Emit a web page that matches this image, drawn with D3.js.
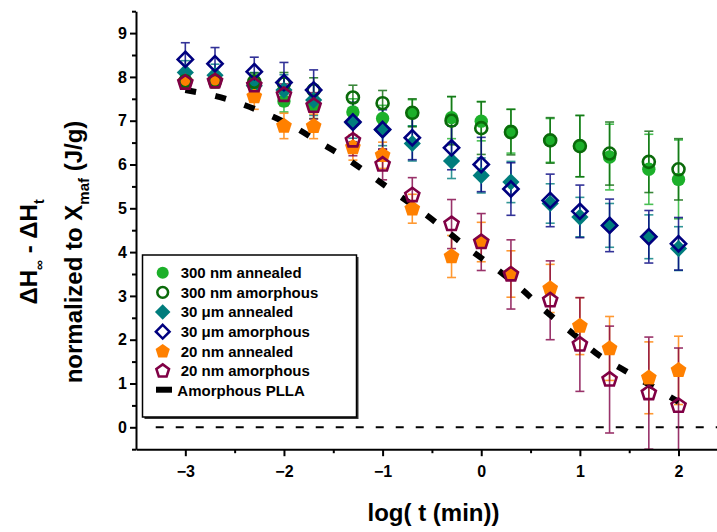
<!DOCTYPE html>
<html><head><meta charset="utf-8">
<script src="https://cdn.jsdelivr.net/npm/d3@7"></script>
<style>
body{margin:0;background:#fff}
svg{display:block}
text{font-family:"Liberation Sans",Arial,Helvetica,sans-serif;font-weight:bold;fill:#000}
</style>
</head><body>
<svg id="c" width="717" height="532"></svg>
<script>
// ---------- data ----------
const logT = [-3, -2.699, -2.301, -2, -1.699, -1.301, -1, -0.699, -0.301, 0, 0.301, 0.699, 1, 1.301, 1.699, 2];

const ann300    = [7.90, 7.90, 7.85, 7.45, 7.33, 7.20, 7.05, 7.18, 7.07, 6.99, 6.76, 6.55, 6.42, 6.17, 5.89, 5.66];
const ann300Err = [0.15, 0.15, 0.20, 0.25, 0.28, 0.30, 0.30, 0.30, 0.48, 0.45, 0.50, 0.50, 0.70, 0.75, 0.80, 0.90];
const am300     = [7.90, 7.91, 7.89, 7.85, 7.70, 7.53, 7.40, 7.18, 7.00, 6.83, 6.74, 6.55, 6.42, 6.25, 6.06, 5.89];
const am300Err  = [0.15, 0.15, 0.20, 0.25, 0.28, 0.28, 0.29, 0.32, 0.55, 0.60, 0.52, 0.52, 0.70, 0.72, 0.70, 0.70];
const ann30     = [8.10, 8.04, 7.80, 7.70, 7.47, 6.95, 6.78, 6.48, 6.08, 5.75, 5.60, 5.11, 4.80, 4.61, 4.35, 4.08];
const ann30Err  = [0.27, 0.25, 0.30, 0.35, 0.35, 0.35, 0.35, 0.40, 0.40, 0.40, 0.47, 0.45, 0.45, 0.50, 0.50, 0.50];
const am30      = [8.40, 8.30, 8.12, 7.87, 7.70, 6.97, 6.80, 6.61, 6.38, 6.00, 5.44, 5.18, 4.93, 4.61, 4.35, 4.19];
const am30Err   = [0.38, 0.37, 0.33, 0.46, 0.46, 0.45, 0.45, 0.50, 0.50, 0.62, 0.60, 0.60, 0.60, 0.60, 0.60, 0.60];
const ann20     = [7.89, 7.91, 7.55, 6.88, 6.87, 6.39, 6.21, 4.99, 3.90, 4.23, 3.50, 3.17, 2.31, 1.80, 1.13, 1.30];
const ann20Err  = [0.15, 0.15, 0.29, 0.29, 0.28, 0.29, 0.30, 0.33, 0.48, 0.45, 0.53, 0.55, 0.65, 0.73, 0.82, 0.78];
const am20      = [7.87, 7.90, 7.81, 7.59, 7.34, 6.55, 6.00, 5.30, 4.64, 4.23, 3.49, 2.90, 1.89, 1.09, 0.78, 0.49];
const am20Err   = [0.15, 0.15, 0.20, 0.25, 0.30, 0.35, 0.35, 0.40, 0.56, 0.65, 0.79, 0.90, 1.07, 1.22, 1.28, 1.32];

// Amorphous PLLA reference curve
const pllaX = [-3, -2.69, -2.44, -2.17, -1.90, -1.65, -1.41, -1.15, -0.89, -0.60, -0.36, -0.10, 0.17, 0.41, 0.66, 0.94, 1.19, 1.46, 1.73, 2.0];
const pllaY = [7.70, 7.56, 7.39, 7.15, 6.86, 6.52, 6.20, 5.80, 5.38, 4.92, 4.50, 4.03, 3.59, 3.15, 2.64, 2.12, 1.65, 1.29, 0.94, 0.58];

const zeroLineX = [-3.3, 2.5];
const zeroLineY = [0, 0];

const xTicks = [-3, -2, -1, 0, 1, 2];
const xMinor = [-2.5, -1.5, -0.5, 0.5, 1.5, 2.5];
const yTicks = [0, 1, 2, 3, 4, 5, 6, 7, 8, 9];
const yMinor = [-0.5, 0.5, 1.5, 2.5, 3.5, 4.5, 5.5, 6.5, 7.5, 8.5, 9.5];

const seriesNames = ["300 nm annealed", "300 nm amorphous", "30 \u03bcm annealed", "30 \u03bcm amorphous", "20 nm annealed", "20 nm amorphous"];
const plaName = "Amorphous PLLA";

// ---------- layout ----------
const svg = d3.select("#c");
const x = d3.scaleLinear().domain([-3.5, 2.5]).range([136, 136 + 6 * 98.64]);
const y = d3.scaleLinear().domain([-0.5, 9.5]).range([449.2, 11.2]);

svg.append("defs").append("clipPath").attr("id", "plotClip")
  .append("rect").attr("x", x(-3.5)).attr("y", 0).attr("width", 717).attr("height", y(-0.5) + 0.8);

const series = [
  {name: seriesNames[0], vals: ann300, err: ann300Err, shape: "circle",  fill: "#1cb02a", stroke: "none",    open: false},
  {name: seriesNames[2], vals: ann30,  err: ann30Err,  shape: "diamond", fill: "#007d7d", stroke: "none",    open: false},
  {name: seriesNames[4], vals: ann20,  err: ann20Err,  shape: "pent",    fill: "#ff8000", stroke: "none",    open: false},
  {name: seriesNames[1], vals: am300,  err: am300Err,  shape: "circle",  fill: "none",    stroke: "#0a6a0a", open: true},
  {name: seriesNames[3], vals: am30,   err: am30Err,   shape: "diamond", fill: "none",    stroke: "#00007f", open: true},
  {name: seriesNames[5], vals: am20,   err: am20Err,   shape: "pent",    fill: "none",    stroke: "#800045", open: true}
];
const colorOf = s => s.open ? s.stroke : s.fill;

function shapePath(shape, open) {
  if (shape === "circle") {
    const r = open ? 6 : 6.7;
    return `M${r},0A${r},${r},0,1,1,${-r},0A${r},${r},0,1,1,${r},0Z`;
  }
  if (shape === "diamond") {
    const r = open ? 7.6 : 8.6;
    return `M0,${-r}L${r},0L0,${r}L${-r},0Z`;
  }
  const R = open ? 7.4 : 8.3;
  const pts = d3.range(5).map(k => {
    const a = (-90 + k * 72) * Math.PI / 180;
    return [R * Math.cos(a), R * Math.sin(a)];
  });
  return "M" + pts.map(p => p.join(",")).join("L") + "Z";
}

// zero dashed line
svg.append("line")
  .attr("x1", x(zeroLineX[0])).attr("x2", x(zeroLineX[1]))
  .attr("y1", y(zeroLineY[0])).attr("y2", y(zeroLineY[1]))
  .attr("stroke", "#000").attr("stroke-width", 2).attr("stroke-dasharray", "8,12");

// error bars (clipped to the plot area)
const gErr = svg.append("g").attr("clip-path", "url(#plotClip)");
series.forEach(s => {
  const col = colorOf(s);
  const g = gErr.append("g").attr("stroke", col).attr("stroke-width", 1.6).attr("opacity", 0.8);
  logT.forEach((t, i) => {
    const cx = x(t), y1 = y(s.vals[i] - s.err[i]), y2 = y(s.vals[i] + s.err[i]);
    g.append("line").attr("x1", cx).attr("x2", cx).attr("y1", y1).attr("y2", y2);
    g.append("line").attr("x1", cx - 4.5).attr("x2", cx + 4.5).attr("y1", y1).attr("y2", y1);
    g.append("line").attr("x1", cx - 4.5).attr("x2", cx + 4.5).attr("y1", y2).attr("y2", y2);
  });
});

// Amorphous PLLA dashed curve
const pllaLine = d3.line().x(d => x(d[0])).y(d => y(d[1])).curve(d3.curveCatmullRom);
svg.append("path")
  .attr("d", pllaLine(pllaX.map((v, i) => [v, pllaY[i]])))
  .attr("fill", "none").attr("stroke", "#000").attr("stroke-width", 6)
  .attr("stroke-dasharray", "11,19.5");

// markers
series.forEach(s => {
  svg.append("g").selectAll("path").data(logT).join("path")
    .attr("d", shapePath(s.shape, s.open))
    .attr("transform", (t, i) => `translate(${x(t)},${y(s.vals[i])})`)
    .attr("fill", s.fill).attr("stroke", s.stroke).attr("stroke-width", s.open ? 2.6 : 0);
});

// axes
const xAxisY = y(-0.5);
const gx = svg.append("g").attr("transform", `translate(0,${xAxisY})`)
  .call(d3.axisBottom(x).tickValues(xTicks).tickSize(7).tickSizeOuter(0).tickFormat(d3.format("d")));
gx.append("g").call(d3.axisBottom(x).tickValues(xMinor).tickSize(4).tickSizeOuter(0).tickFormat(""))
  .select(".domain").remove();
gx.selectAll("text").attr("y", 28.3).attr("dy", null).style("font-size", "16px").style("font-family", "'Liberation Sans',Arial,sans-serif").style("font-weight", "bold");

const gy = svg.append("g").attr("transform", `translate(${x(-3.5)},0)`)
  .call(d3.axisLeft(y).tickValues(yTicks).tickSize(6).tickSizeOuter(0).tickFormat(d3.format("d")));
gy.append("g").call(d3.axisLeft(y).tickValues(yMinor).tickSize(4).tickSizeOuter(0).tickFormat(""))
  .select(".domain").remove();
gy.selectAll("text").attr("x", -9).style("font-size", "16px").style("font-family", "'Liberation Sans',Arial,sans-serif").style("font-weight", "bold");

svg.selectAll(".domain").attr("stroke-width", 2).attr("stroke", "#000");
svg.selectAll(".tick line").attr("stroke-width", 2).attr("stroke", "#000");

// axis titles
svg.append("text").attr("x", 433.5).attr("y", 520.7)
  .attr("text-anchor", "middle").style("font-size", "24px").text("log( t (min))");

const t1 = svg.append("text").attr("transform", "translate(36.5,252) rotate(-90)")
  .attr("text-anchor", "middle").style("font-size", "24px");
t1.append("tspan").text("\u0394H");
t1.append("tspan").attr("dy", 7).style("font-size", "14px").text("\u221e");
t1.append("tspan").attr("dy", -7).text(" - \u0394H");
t1.append("tspan").attr("dy", 7).style("font-size", "14px").text("t");

const t2 = svg.append("text").attr("transform", "translate(81.5,252) rotate(-90)")
  .attr("text-anchor", "middle").style("font-size", "24px");
t2.append("tspan").text("normalized to X");
t2.append("tspan").attr("dy", 7).style("font-size", "15px").text("maf");
t2.append("tspan").attr("dy", -7).text(" (J/g)");

// legend
const lg = svg.append("g");
lg.append("rect").attr("x", 144.5).attr("y", 257).attr("width", 214).attr("height", 162).attr("fill", "#333");
lg.append("rect").attr("x", 142.5).attr("y", 255).attr("width", 214).attr("height", 162)
  .attr("fill", "#fff").attr("stroke", "#000").attr("stroke-width", 1.5);
const legendOrder = [series[0], series[3], series[1], series[4], series[2], series[5]];
legendOrder.forEach((s, i) => {
  const cy = 272.7 + i * 19.67;
  lg.append("path").attr("d", shapePath(s.shape, s.open))
    .attr("transform", `translate(162.7,${cy}) scale(0.9)`)
    .attr("fill", s.fill).attr("stroke", s.stroke).attr("stroke-width", s.open ? 2.8 : 0);
  lg.append("text").attr("x", 180.7).attr("y", cy + 5.4).style("font-size", "15px").text(s.name);
});
{
  const cy = 272.7 + 6 * 19.67;
  lg.append("line").attr("x1", 156).attr("x2", 172).attr("y1", cy - 1).attr("y2", cy - 1)
    .attr("stroke", "#000").attr("stroke-width", 6);
  lg.append("text").attr("x", 177.3).attr("y", cy + 5.4).style("font-size", "15px").text(plaName);
}
</script>
</body></html>
